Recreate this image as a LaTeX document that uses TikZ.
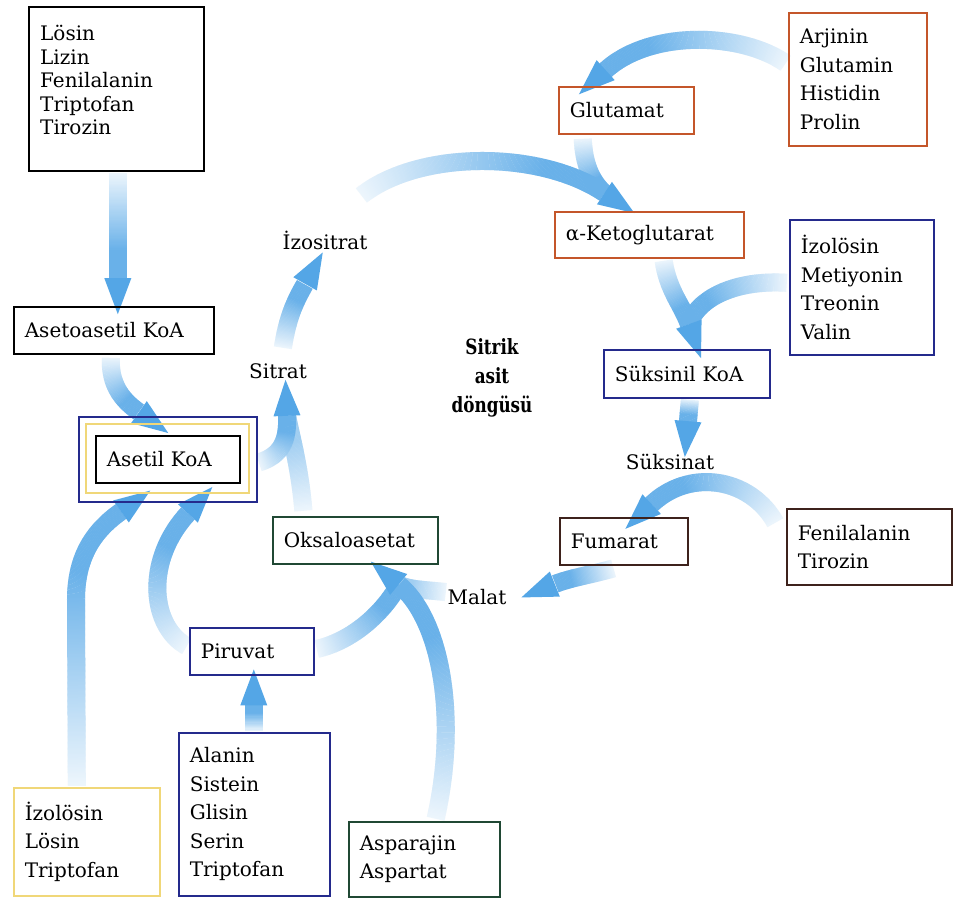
\documentclass[tikz,border=0pt]{standalone}
\usepackage{fontspec}
\setmainfont{DejaVu Serif}
\newfontfamily\cyclefont[FakeStretch=0.8]{DejaVu Serif}
\usetikzlibrary{decorations.markings,calc,shapes.geometric}
\pgfdeclarelayer{bg}
\pgfsetlayers{bg,main}
\definecolor{flowblue}{RGB}{84,166,230}
\definecolor{orangebox}{RGB}{196,86,42}
\definecolor{navybox}{RGB}{36,42,140}
\definecolor{brownbox}{RGB}{62,34,28}
\definecolor{greenbox}{RGB}{32,72,52}
\definecolor{yellowbox}{RGB}{240,215,120}
\newcommand\flowstart{10}
\newcommand\flowtop{88}
\newcommand\flowreach{0.75}
\tikzset{
  flowbody/.style={postaction={decorate,decoration={markings,
    mark=between positions 0 and 1 step 1.2pt with {%
      \pgfmathsetmacro\flowratio{(1.2*\pgfkeysvalueof{/pgf/decoration/mark info/sequence number})/(\flowreach*\pgfdecoratedpathlength)}%
      \pgfmathsetmacro\flowpc{min(\flowtop,\flowstart+(\flowtop-\flowstart)*\flowratio)}%
      \fill[flowblue!\flowpc!white] (-0.8pt,-9pt) rectangle (0.8pt,9pt);}}}},
  fliptri/.style={isosceles triangle, isosceles triangle stretches, fill=flowblue,
    minimum width=27pt, minimum height=36pt, inner sep=0pt, anchor=west}
}
% head: #1 = point behind (last control point), #2 = base point of the head
\newcommand\flowtip[2]{%
  \path let \p1=($(#2)-(#1)$), \n1={atan2(\y1,\x1)} in
    ($(#2)+(0,0)$) node[fliptri, rotate=\n1] {};%
}
\begin{document}
\begin{tikzpicture}[x=1pt,y=-1pt,
  every node/.style={font=\fontsize{20}{28.5}\selectfont},
  abox/.style={draw=#1, line width=1.6pt, anchor=north west, inner xsep=11pt, inner ysep=0pt, align=left},
  lbl/.style={inner sep=0pt}]
\useasboundingbox (0,0) rectangle (954,901);

% boxes
\node[draw=black, line width=1.6pt, anchor=north west, inner sep=0pt, minimum width=175pt, minimum height=164pt] (losin) at (28,6) {};
\node[anchor=north west, inner sep=0pt, align=left, font=\fontsize{20}{23.5}\selectfont] (losintext) at ($(losin.north west)+(12,19)$) {Lösin\\Lizin\\Fenilalanin\\Triptofan\\Tirozin};
\node[abox=orangebox, minimum width=138pt, minimum height=133pt, text width=116pt] (arj) at (788,12) {Arjinin\\Glutamin\\Histidin\\Prolin};
\node[abox=orangebox, minimum width=135pt, minimum height=47pt, text width=113pt] (glu) at (558,86) {Glutamat};
\node[abox=orangebox, minimum width=189pt, minimum height=46pt, text width=167pt] (akg) at (554,211) {α-Ketoglutarat};
\node[abox=navybox, minimum width=144pt, minimum height=135pt, text width=122pt] (izr) at (789,219) {İzolösin\\Metiyonin\\Treonin\\Valin};
\node[abox=navybox, minimum width=166pt, minimum height=48pt, text width=144pt] (skoa) at (603,349) {Süksinil KoA};
\node[abox=brownbox, minimum width=128pt, minimum height=47pt, text width=106pt] (fum) at (559,517) {Fumarat};
\node[abox=brownbox, minimum width=165pt, minimum height=76pt, text width=143pt] (fen) at (786,508) {Fenilalanin\\Tirozin};
\node[abox=greenbox, minimum width=165pt, minimum height=47pt, text width=143pt] (oks) at (272,516) {Oksaloasetat};
\node[abox=black, minimum width=200pt, minimum height=47pt, text width=178pt] (aseto) at (13,306) {Asetoasetil KoA};
\node[draw=navybox, line width=1.6pt, anchor=north west, inner sep=0pt, minimum width=178pt, minimum height=85pt] (asetilB) at (78,416) {};
\node[draw=yellowbox, line width=2pt, anchor=north west, inner sep=0pt, minimum width=163pt, minimum height=69pt] (asetilY) at (85,423) {};
\node[abox=black, minimum width=144pt, minimum height=47pt, text width=122pt] (asetil) at (95,435) {Asetil KoA};
\node[abox=navybox, minimum width=124pt, minimum height=47pt, text width=102pt] (pir) at (189,627) {Piruvat};
\node[abox=navybox, minimum width=151pt, minimum height=163pt, text width=129pt] (ala) at (178,732) {Alanin\\Sistein\\Glisin\\Serin\\Triptofan};
\node[abox=yellowbox, minimum width=146pt, minimum height=108pt, text width=124pt] (izl) at (13,787) {İzolösin\\Lösin\\Triptofan};
\node[abox=greenbox, minimum width=151pt, minimum height=75pt, text width=129pt] (asp) at (348,821) {Asparajin\\Aspartat};

% plain labels
\node[lbl] (izs) at (325,240) {İzositrat};
\node[lbl] (sit) at (278,371) {Sitrat};
\node[lbl] (skn) at (670,462) {Süksinat};
\node[lbl] (mal) at (477,597) {Malat};
\node[lbl, align=center, font=\cyclefont\bfseries\fontsize{21}{29}\selectfont] (cyc) at (492,378) {Sitrik\\asit\\döngüsü};

% flow arrows
\begin{pgfonlayer}{bg}
\fill[white] (0,0) rectangle (954,901);
% secondary branches (no heads), fainter
{\renewcommand\flowtop{55}
\path[flowbody] ($(oks.north)+(-52,-6)$) .. controls (300,470) and (292,440) .. ($(sit)+(9,45)$);
\path[flowbody] ($(mal)+(-32,-5)$) .. controls (428,590) and (410,590) .. ($(oks.south)+(43.5,20)$);
}
\path[flowbody] ($(glu.south)+(-43.5,5)$) .. controls (584,165) and (592,182) .. ($(akg.north)+(-45,-18)$);
\path[flowbody] ($(izr.west)+(-3,-4.5)$) .. controls (740,280) and (700,295) .. ($(skoa.north)+(2,-25)$);
\path[flowbody] ($(pir.east)+(3,-2.5)$) .. controls (355,640) and (385,610) .. ($(oks.south)+(43.5,20)$);
% main arrows
\path[flowbody] ($(losin.south)+(1.5,2)$) -- ($(aseto.north)+(4,-28)$);
\flowtip{$(losin.south)+(1.5,2)$}{$(aseto.north)+(4,-28)$}
\path[flowbody] ($(aseto.south)+(-3,4)$) .. controls (110,385) and (122,400) .. ($(asetilB.north)+(-29,-4)$);
\flowtip{122,400}{$(asetilB.north)+(-29,-4)$}
\path[flowbody] ($(asetilB.east)+(2,3)$) .. controls (282,455) and (288,440) .. ($(sit)+(9,45)$);
\flowtip{288,440}{$(sit)+(9,45)$}
\path[flowbody] ($(sit)+(5,-24)$) .. controls (288,315) and (296,300) .. ($(izs)+(-20,44)$);
\flowtip{296,300}{$(izs)+(-20,44)$}
\path[flowbody] ($(izs)+(37,-45)$) .. controls (420,150) and (540,150) .. ($(akg.north)+(-45,-18)$);
\flowtip{540,150}{$(akg.north)+(-45,-18)$}
\path[flowbody] ($(arj.west)+(-3,-16.5)$) .. controls (740,32) and (650,30) .. ($(glu.north)+(-20.5,-16)$);
\flowtip{650,30}{$(glu.north)+(-20.5,-16)$}
\path[flowbody] ($(akg.south)+(14.5,3)$) .. controls (668,290) and (682,305) .. ($(skoa.north)+(2,-25)$);
\flowtip{682,305}{$(skoa.north)+(2,-25)$}
\path[flowbody] ($(skoa.south)+(3,2)$) -- ($(skn)+(18,-41)$);
\flowtip{$(skoa.south)+(3,2)$}{$(skn)+(18,-41)$}
\path[flowbody] ($(fen.north west)+(-11,14)$) .. controls (750,478) and (690,468) .. ($(fum.north)+(28,-13)$);
\flowtip{690,468}{$(fum.north)+(28,-13)$}
\path[flowbody] ($(fum.south)+(-11,3)$) .. controls (590,575) and (570,578) .. ($(mal)+(78,-13)$);
\flowtip{570,578}{$(mal)+(78,-13)$}
\path[flowbody] ($(asp.north)+(11.5,-3)$) .. controls (458,720) and (442,620) .. ($(oks.south)+(43.5,20)$);
\flowtip{442,620}{$(oks.south)+(43.5,20)$}
\path[flowbody] ($(ala.north)+(-0.5,-2)$) -- ($(pir.south)+(2,30)$);
\flowtip{$(ala.north)+(-0.5,-2)$}{$(pir.south)+(2,30)$}
\path[flowbody] ($(pir.west)+(-3,-5.5)$) .. controls (150,625) and (145,560) .. ($(asetilB.south)+(20,11)$);
\flowtip{145,560}{$(asetilB.south)+(20,11)$}
\path[flowbody] ($(izl.north)+(-10,-2)$) -- (76,600) .. controls (76,555) and (95,530) .. ($(asetilB.south)+(-47,9)$);
\flowtip{95,530}{$(asetilB.south)+(-47,9)$}
\end{pgfonlayer}
\end{tikzpicture}
\end{document}
